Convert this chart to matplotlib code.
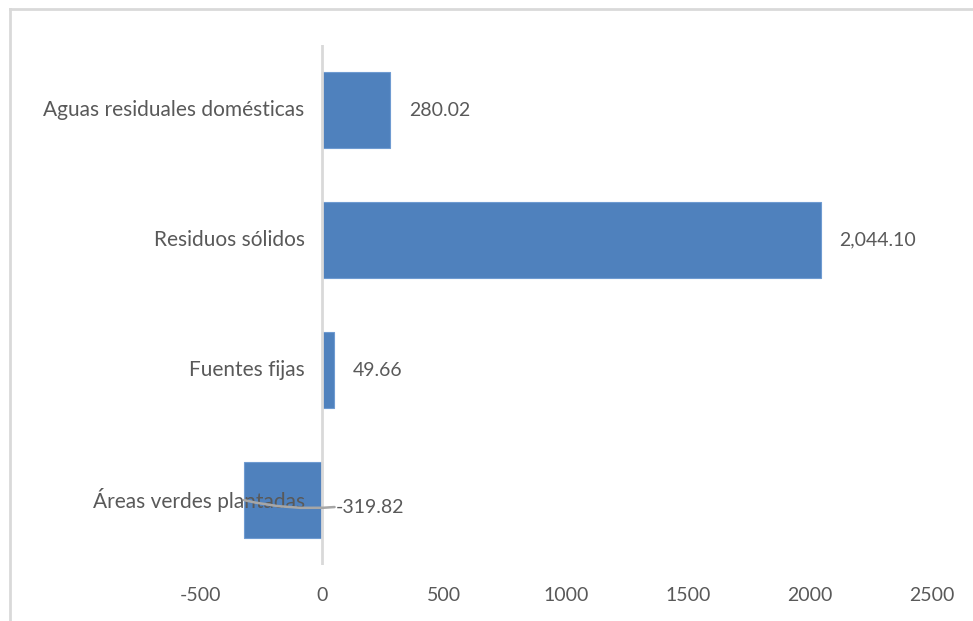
import matplotlib
matplotlib.use("Agg")
import matplotlib.pyplot as plt
from matplotlib.lines import Line2D
from matplotlib.transforms import offset_copy

categories = ["Aguas residuales domésticas", "Residuos sólidos", "Fuentes fijas", "Áreas verdes plantadas"]
values = [280.02, 2044.10, 49.66, -319.82]
value_labels = ["280.02", "2,044.10", "49.66", "-319.82"]
xticks = [-500, 0, 500, 1000, 1500, 2000, 2500]
xtick_labels = ["-500", "0", "500", "1000", "1500", "2000", "2500"]

plt.rcParams['font.family'] = ['Lato', 'DejaVu Sans']
text_color = "#595959"

fig = plt.figure(figsize=(9.73, 6.21), dpi=100)
ax = fig.add_axes([0.2056, 0.090, 0.7524, 0.8375])

ypos = list(range(len(categories)))[::-1]
ax.barh(ypos, values, height=0.58, color="#4f81bd", edgecolor="#6f9bd1", linewidth=0.8, zorder=1)
ax.axvline(0, color="#d9d9d9", linewidth=2, zorder=2)

ax.set_xlim(-500, 2500)
ax.set_ylim(-0.5, len(categories) - 0.5)
ax.set_xticks(xticks)
ax.set_xticklabels(xtick_labels)
ax.set_yticks(ypos)
ax.set_yticklabels([])
ax.tick_params(axis='both', length=0, labelsize=14, labelcolor=text_color)
ax.tick_params(axis='x', pad=16)
for s in ax.spines.values():
    s.set_visible(False)

# category labels next to the zero axis (Excel style)
for y, cat in zip(ypos, categories):
    ax.annotate(cat, xy=(0, y), xytext=(-12.5, 0), textcoords="offset points",
                ha="right", va="center", fontsize=15, color=text_color, zorder=3)

label_tr = offset_copy(ax.transData, fig=fig, x=9, y=-5, units="points")
for y, v, lab in zip(ypos, values, value_labels):
    if v >= 0:
        ax.annotate(lab, xy=(v, y), xytext=(13.5, 0), textcoords="offset points",
                    ha="left", va="center", fontsize=14, color=text_color)
    else:
        ax.annotate(lab, xy=(0, y), xytext=(10, -5), textcoords="offset points",
                    ha="left", va="center", fontsize=14, color=text_color)
        ax.annotate("", xy=(v, y), xycoords="data", xytext=(0, y), textcoords=label_tr,
                    arrowprops=dict(arrowstyle="-", color="#a6a6a6", lw=1.8,
                                    connectionstyle="arc3,rad=-0.08", shrinkA=0, shrinkB=0),
                    zorder=4)

# chart border (top and left visible)
fig.add_artist(Line2D([0.0103, 1.0], [0.986, 0.986], transform=fig.transFigure, color="#d9d9d9", lw=2))
fig.add_artist(Line2D([0.0103, 0.0103], [0.0, 0.986], transform=fig.transFigure, color="#d9d9d9", lw=2))

fig.savefig("out.png", dpi=100)
